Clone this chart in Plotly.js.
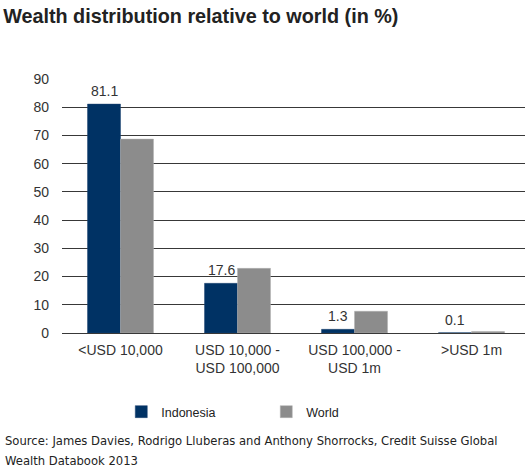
<!DOCTYPE html>
<html>
<head>
<meta charset="utf-8">
<script src="https://cdn.plot.ly/plotly-3.0.1.min.js"></script>
<style>html,body{margin:0;padding:0;background:#fff;}#chart{width:525px;height:476px;}</style>
</head>
<body>
<div id="chart"></div>
<script>
var categories = ['<USD 10,000', 'USD 10,000 -<br>USD 100,000', 'USD 100,000 -<br>USD 1m', '>USD 1m'];
var indonesia = [81.1, 17.6, 1.3, 0.1];
var world = [68.7, 22.9, 7.7, 0.5];
var indonesiaLabels = ['81.1', '17.6', '1.3', '0.1'];
var yTicks = [0, 10, 20, 30, 40, 50, 60, 70, 80, 90];
var sourceLines = ['Source: James Davies, Rodrigo Lluberas and Anthony Shorrocks, Credit Suisse Global',
                   'Wealth Databook 2013'];

var font = 'Liberation Sans, Arial, sans-serif';

var traces = [
  {type: 'bar', name: 'Indonesia', x: categories, y: indonesia,
   marker: {color: '#003264', line: {color: '#1f4470', width: 0.5}},
   hoverinfo: 'none'},
  {type: 'bar', name: 'World', x: categories, y: world,
   marker: {color: '#8c8c8c', line: {color: '#b0b0b0', width: 0.5}},
   hoverinfo: 'none'}
];

var annotations = categories.map(function (c, i) {
  return {x: c, y: indonesia[i], xref: 'x', yref: 'y', text: indonesiaLabels[i],
          showarrow: false, xshift: -16.5, yshift: 13, yanchor: 'middle',
          font: {family: font, size: 14, color: '#333'}};
});
sourceLines.forEach(function (t, i) {
  annotations.push({xref: 'paper', yref: 'paper', x: -0.128, y: (333 - 441 - 20 * i) / 254,
    xanchor: 'left', yanchor: 'middle', align: 'left', showarrow: false, text: t,
    font: {family: 'DejaVu Sans, sans-serif', size: 11.6, color: '#222'}});
});

var layout = {
  width: 525, height: 476,
  margin: {l: 62, r: 0, t: 79, b: 143},
  paper_bgcolor: '#fff', plot_bgcolor: '#fff',
  barmode: 'group', bargap: 0.436, bargroupgap: 0,
  font: {family: font, size: 14, color: '#333'},
  title: {text: '<b>Wealth distribution relative to world (in %)</b>',
          xref: 'container', x: 0.006, xanchor: 'left',
          yref: 'container', y: 1 - 16/476, yanchor: 'middle',
          font: {family: font, size: 19.8, color: '#222'}},
  xaxis: {type: 'category', range: [-0.5, 3.457], showgrid: false, zeroline: false,
          showline: false, ticks: '', ticklabelstandoff: 7,
          tickfont: {family: font, size: 14, color: '#333'}},
  yaxis: {range: [0, 90], tickvals: yTicks, ticktext: yTicks.map(String),
          showgrid: true, gridcolor: '#383838', gridwidth: 1,
          zeroline: true, zerolinecolor: '#383838', zerolinewidth: 1,
          showline: false, ticks: '', ticklabelstandoff: 12,
          tickfont: {family: font, size: 14, color: '#333'}},
  showlegend: true,
  legend: {orientation: 'h', xref: 'container', yref: 'container',
           x: 0.231, xanchor: 'left', y: 1 - 397/476, yanchor: 'top',
           entrywidth: 100, entrywidthmode: 'pixels', itemwidth: 30,
           font: {family: font, size: 12.5, color: '#222'}, bgcolor: 'rgba(0,0,0,0)'},
  annotations: annotations
};

Plotly.newPlot('chart', traces, layout, {displayModeBar: false, staticPlot: true});
</script>
</body>
</html>
